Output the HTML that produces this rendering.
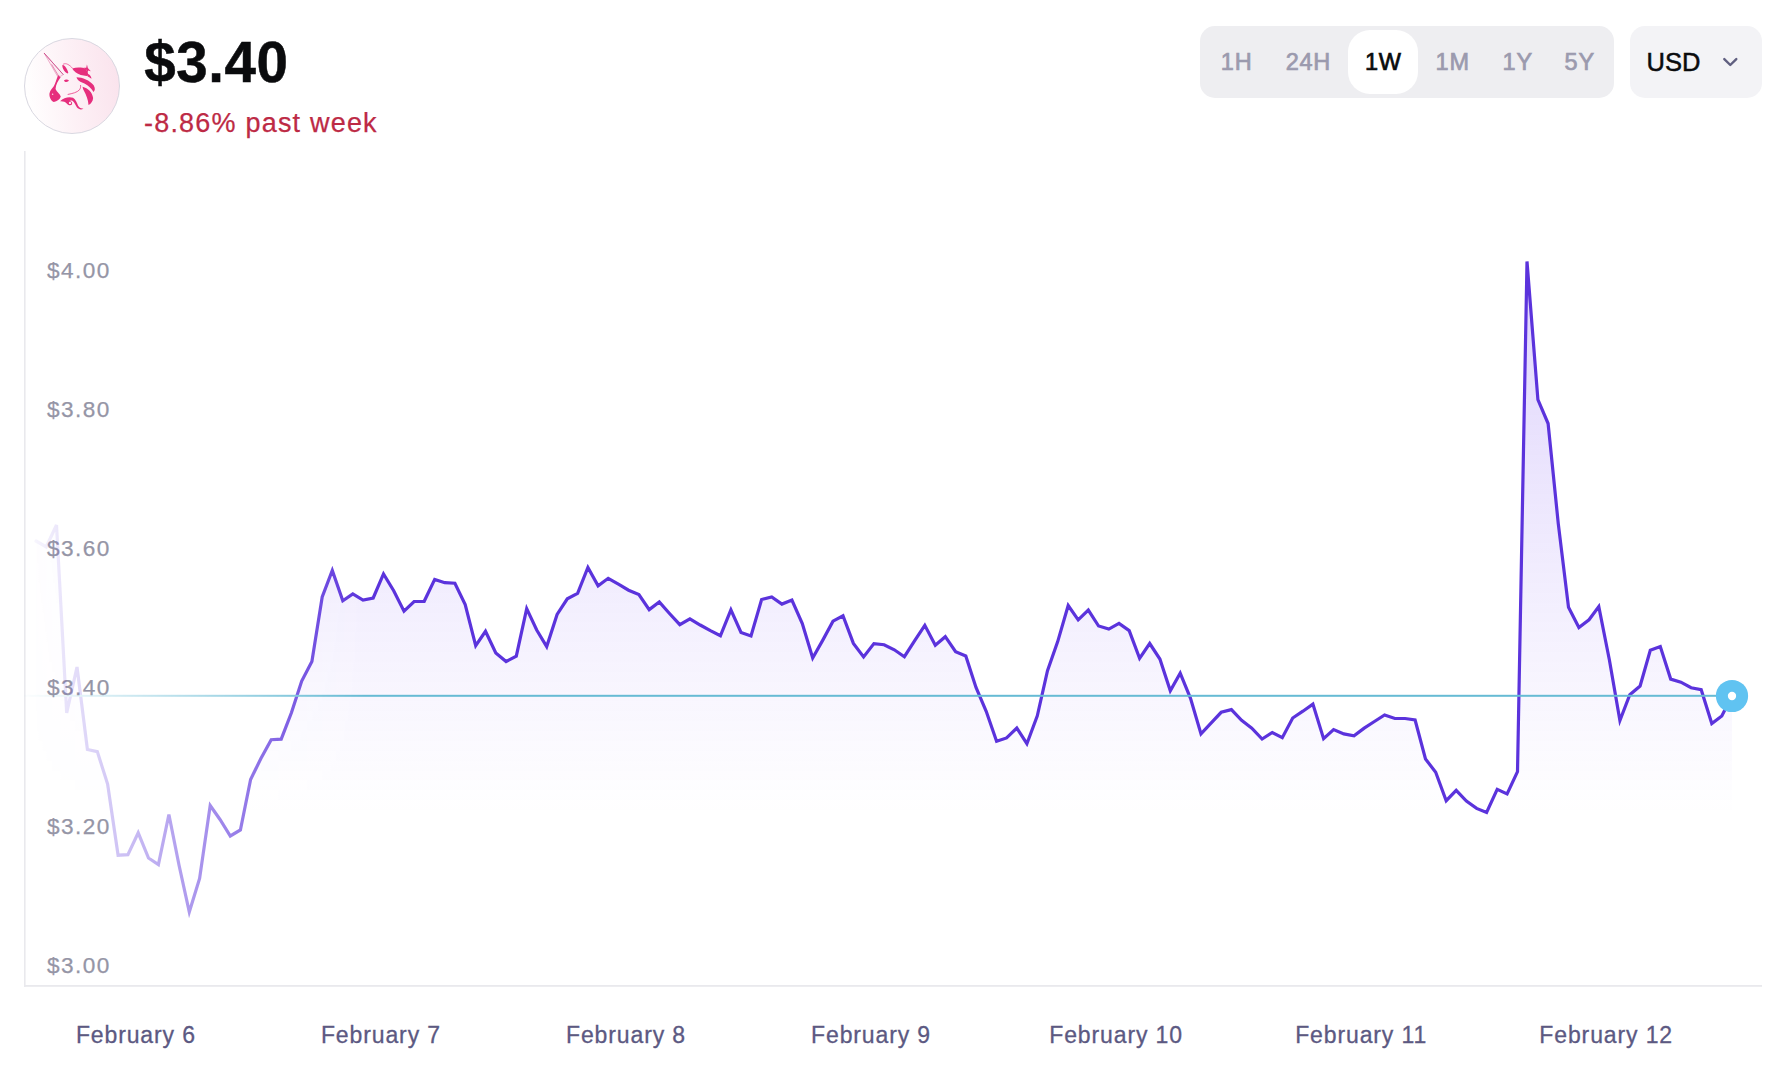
<!DOCTYPE html>
<html lang="en"><head><meta charset="utf-8"><title>UNI price chart</title>
<style>
html,body{margin:0;padding:0;background:#fff;}
body{width:1790px;height:1090px;position:relative;overflow:hidden;font-family:"Liberation Sans",sans-serif;}
.abs{position:absolute;}
#price{left:144.3px;top:30.2px;font-size:56.5px;line-height:66px;font-weight:700;color:#0a0b0d;letter-spacing:0.55px;-webkit-text-stroke:0.5px #0a0b0d;white-space:nowrap;}
#chg{left:144px;top:106.5px;font-size:27px;line-height:32px;color:#bd2a45;letter-spacing:1.2px;-webkit-text-stroke:0.25px #bd2a45;white-space:nowrap;}
#logo{left:24px;top:38px;width:96px;height:96px;border-radius:50%;box-sizing:border-box;border:1.4px solid #d9d8e1;background:linear-gradient(82deg,#fffefe 8%,#fdf1f6 48%,#fae2ec 100%);}
#range{left:1200px;top:26px;width:414px;height:72px;border-radius:15px;background:#eeeef1;}
#pill{left:1348px;top:30px;width:70px;height:64px;border-radius:22px;background:#fff;}
.rb{top:46.3px;font-size:23.5px;line-height:32px;color:#9b9aae;-webkit-text-stroke:0.7px #9b9aae;letter-spacing:0.8px;white-space:nowrap;transform:translateX(-50%);margin-left:0.4px;}
.rb.sel{color:#0a0b0d;-webkit-text-stroke:0.7px #0a0b0d;}
#usd{left:1630px;top:26px;width:132px;height:72px;border-radius:15px;background:#f3f3f6;}
#usdt{left:1646.5px;top:45px;font-size:25.5px;line-height:34px;color:#0a0b0d;-webkit-text-stroke:0.5px #0a0b0d;white-space:nowrap;}
svg text.yl{font-family:"Liberation Sans",sans-serif;font-size:22.6px;fill:#9595a6;letter-spacing:1.45px;stroke:#9595a6;stroke-width:0.25px;}
svg text.dl{font-family:"Liberation Sans",sans-serif;font-size:23px;fill:#5c5982;letter-spacing:0.88px;stroke:#5c5982;stroke-width:0.3px;}
</style></head>
<body>
<svg class="abs" style="left:0;top:0" width="1790" height="1090" viewBox="0 0 1790 1090">
<defs>
<linearGradient id="fade" gradientUnits="userSpaceOnUse" x1="24" y1="0" x2="365" y2="0">
<stop offset="0" stop-color="#fff" stop-opacity="0.02"/><stop offset="1" stop-color="#fff" stop-opacity="1"/>
</linearGradient>
<mask id="m" maskUnits="userSpaceOnUse" x="0" y="0" width="1790" height="1090"><rect x="0" y="0" width="1790" height="1090" fill="url(#fade)"/></mask>
<linearGradient id="fill" gradientUnits="userSpaceOnUse" x1="0" y1="261" x2="0" y2="815">
<stop offset="0" stop-color="#6f3ff3" stop-opacity="0.22"/><stop offset="1" stop-color="#6f3ff3" stop-opacity="0"/>
</linearGradient>
</defs>
<rect x="24" y="151" width="1.6" height="836" fill="#e9e9ed"/>
<rect x="24" y="985" width="1738" height="1.8" fill="#e9e9ed"/>
<text x="47" y="278.3" class="yl">$4.00</text>
<text x="47" y="417.2" class="yl">$3.80</text>
<text x="47" y="556.1" class="yl">$3.60</text>
<text x="47" y="695.0" class="yl">$3.40</text>
<text x="47" y="833.9" class="yl">$3.20</text>
<text x="47" y="972.8" class="yl">$3.00</text>
<text x="135.9" y="1042.6" class="dl" text-anchor="middle">February 6</text>
<text x="380.95" y="1042.6" class="dl" text-anchor="middle">February 7</text>
<text x="626.0" y="1042.6" class="dl" text-anchor="middle">February 8</text>
<text x="871.05" y="1042.6" class="dl" text-anchor="middle">February 9</text>
<text x="1116.1" y="1042.6" class="dl" text-anchor="middle">February 10</text>
<text x="1361.15" y="1042.6" class="dl" text-anchor="middle">February 11</text>
<text x="1606.2" y="1042.6" class="dl" text-anchor="middle">February 12</text>
<g mask="url(#m)">
<path d="M36.1 541.0 L46.2 546.9 L56.5 525.0 L66.7 713.0 L77.0 667.0 L87.4 749.5 L97.3 751.6 L107.6 784.0 L118.1 855.2 L127.9 854.6 L138.2 832.8 L148.5 858.0 L158.4 864.6 L168.9 814.5 L179.1 865.5 L189.3 912.0 L199.6 878.5 L210.2 805.5 L220.0 819.5 L230.3 836.0 L240.4 830.0 L250.6 779.5 L260.9 758.5 L271.2 739.7 L281.2 739.1 L291.5 712.5 L301.7 681.0 L311.9 661.5 L322.2 597.0 L332.3 570.4 L342.8 600.7 L352.8 593.9 L363.0 600.0 L373.2 598.0 L383.5 573.9 L393.7 590.7 L404.0 611.2 L414.1 601.5 L424.2 601.3 L434.7 579.4 L444.8 582.7 L454.9 583.2 L465.2 604.5 L475.7 645.6 L485.5 631.3 L495.8 652.9 L506.1 661.5 L516.3 656.2 L526.7 608.6 L536.7 630.0 L546.7 646.6 L557.1 614.4 L567.3 598.8 L577.6 593.3 L587.9 567.5 L598.1 585.8 L608.2 578.3 L618.4 584.1 L628.6 590.2 L638.9 594.6 L649.2 609.6 L659.3 602.0 L669.5 613.5 L679.8 624.7 L689.9 618.8 L700.2 625.0 L710.4 630.7 L720.4 635.8 L730.9 609.9 L741.0 632.4 L751.0 635.9 L761.6 599.5 L771.7 597.0 L781.9 604.1 L791.9 600.1 L802.3 623.6 L812.7 658.0 L822.8 640.1 L833.0 621.2 L843.0 615.8 L853.4 643.4 L863.6 656.9 L873.9 643.6 L884.1 644.7 L894.3 649.8 L904.4 656.7 L914.7 640.6 L924.8 625.3 L935.3 645.3 L945.3 636.7 L955.6 651.7 L965.8 655.9 L976.0 687.4 L986.2 711.3 L996.6 741.2 L1006.6 737.9 L1016.8 728.1 L1026.9 743.7 L1037.3 715.9 L1047.5 670.6 L1057.7 641.6 L1068.2 605.5 L1078.2 619.8 L1088.3 610.1 L1098.6 626.0 L1108.8 629.1 L1119.0 623.4 L1129.2 630.6 L1139.6 658.4 L1149.7 643.5 L1159.9 659.0 L1170.3 690.7 L1180.2 673.2 L1190.5 698.4 L1201.0 733.9 L1211.0 723.2 L1221.2 712.3 L1231.4 709.6 L1241.6 720.4 L1251.8 728.1 L1262.1 739.0 L1272.3 732.5 L1282.3 737.7 L1292.7 718.0 L1302.9 711.2 L1312.9 704.1 L1323.6 738.6 L1333.6 729.6 L1343.8 733.9 L1354.0 735.8 L1364.2 728.1 L1374.4 721.5 L1384.6 714.9 L1394.9 718.5 L1405.1 718.5 L1415.1 720.0 L1425.5 759.0 L1435.7 772.2 L1446.2 800.7 L1456.2 790.4 L1466.4 801.1 L1476.6 808.4 L1486.6 812.4 L1497.2 789.4 L1507.1 794.0 L1517.5 771.7 L1527.0 261.5 L1537.9 399.7 L1548.1 423.5 L1558.3 523.9 L1568.5 607.3 L1578.9 627.5 L1589.0 619.8 L1598.8 606.6 L1609.4 660.0 L1619.9 720.6 L1629.8 694.7 L1640.1 686.0 L1650.3 650.3 L1660.3 646.5 L1670.7 679.1 L1680.9 682.2 L1691.1 687.7 L1701.2 689.7 L1711.8 723.5 L1721.8 716.0 L1732.0 695.7 L1732.0 986 L36.1 986 Z" fill="url(#fill)"/>
<path d="M36.1 541.0 L46.2 546.9 L56.5 525.0 L66.7 713.0 L77.0 667.0 L87.4 749.5 L97.3 751.6 L107.6 784.0 L118.1 855.2 L127.9 854.6 L138.2 832.8 L148.5 858.0 L158.4 864.6 L168.9 814.5 L179.1 865.5 L189.3 912.0 L199.6 878.5 L210.2 805.5 L220.0 819.5 L230.3 836.0 L240.4 830.0 L250.6 779.5 L260.9 758.5 L271.2 739.7 L281.2 739.1 L291.5 712.5 L301.7 681.0 L311.9 661.5 L322.2 597.0 L332.3 570.4 L342.8 600.7 L352.8 593.9 L363.0 600.0 L373.2 598.0 L383.5 573.9 L393.7 590.7 L404.0 611.2 L414.1 601.5 L424.2 601.3 L434.7 579.4 L444.8 582.7 L454.9 583.2 L465.2 604.5 L475.7 645.6 L485.5 631.3 L495.8 652.9 L506.1 661.5 L516.3 656.2 L526.7 608.6 L536.7 630.0 L546.7 646.6 L557.1 614.4 L567.3 598.8 L577.6 593.3 L587.9 567.5 L598.1 585.8 L608.2 578.3 L618.4 584.1 L628.6 590.2 L638.9 594.6 L649.2 609.6 L659.3 602.0 L669.5 613.5 L679.8 624.7 L689.9 618.8 L700.2 625.0 L710.4 630.7 L720.4 635.8 L730.9 609.9 L741.0 632.4 L751.0 635.9 L761.6 599.5 L771.7 597.0 L781.9 604.1 L791.9 600.1 L802.3 623.6 L812.7 658.0 L822.8 640.1 L833.0 621.2 L843.0 615.8 L853.4 643.4 L863.6 656.9 L873.9 643.6 L884.1 644.7 L894.3 649.8 L904.4 656.7 L914.7 640.6 L924.8 625.3 L935.3 645.3 L945.3 636.7 L955.6 651.7 L965.8 655.9 L976.0 687.4 L986.2 711.3 L996.6 741.2 L1006.6 737.9 L1016.8 728.1 L1026.9 743.7 L1037.3 715.9 L1047.5 670.6 L1057.7 641.6 L1068.2 605.5 L1078.2 619.8 L1088.3 610.1 L1098.6 626.0 L1108.8 629.1 L1119.0 623.4 L1129.2 630.6 L1139.6 658.4 L1149.7 643.5 L1159.9 659.0 L1170.3 690.7 L1180.2 673.2 L1190.5 698.4 L1201.0 733.9 L1211.0 723.2 L1221.2 712.3 L1231.4 709.6 L1241.6 720.4 L1251.8 728.1 L1262.1 739.0 L1272.3 732.5 L1282.3 737.7 L1292.7 718.0 L1302.9 711.2 L1312.9 704.1 L1323.6 738.6 L1333.6 729.6 L1343.8 733.9 L1354.0 735.8 L1364.2 728.1 L1374.4 721.5 L1384.6 714.9 L1394.9 718.5 L1405.1 718.5 L1415.1 720.0 L1425.5 759.0 L1435.7 772.2 L1446.2 800.7 L1456.2 790.4 L1466.4 801.1 L1476.6 808.4 L1486.6 812.4 L1497.2 789.4 L1507.1 794.0 L1517.5 771.7 L1527.0 261.5 L1537.9 399.7 L1548.1 423.5 L1558.3 523.9 L1568.5 607.3 L1578.9 627.5 L1589.0 619.8 L1598.8 606.6 L1609.4 660.0 L1619.9 720.6 L1629.8 694.7 L1640.1 686.0 L1650.3 650.3 L1660.3 646.5 L1670.7 679.1 L1680.9 682.2 L1691.1 687.7 L1701.2 689.7 L1711.8 723.5 L1721.8 716.0 L1732.0 695.7" fill="none" stroke="#5b33dc" stroke-width="3.2" stroke-linejoin="miter" stroke-miterlimit="4" stroke-linecap="round"/>
<rect x="24" y="694.8" width="1708" height="2" fill="#66bbd4"/>
</g>
<circle cx="1732" cy="696" r="16.1" fill="#60c3f1"/>
<circle cx="1732" cy="696" r="4.15" fill="#fff"/>
</svg>
<div id="logo" class="abs"></div>
<svg class="abs" style="left:40px;top:45px" width="70" height="75" viewBox="0 0 1017 1090">
<g fill="#e62e7d" stroke="none">
<path d="M60 118 L338 430 L300 455 L250 448 Z" fill="#fbe9f1" stroke="#d8508f" stroke-width="6" stroke-linejoin="round"/>
<path d="M62 120 L336 428" fill="none" stroke="#c43a7f" stroke-width="11" stroke-linecap="round"/>
<path d="M168 282 L268 446" fill="none" stroke="#d43a80" stroke-width="8"/>
<path d="M262 440 C240 500 222 560 200 600 C180 630 150 650 138 700 C130 750 160 810 200 830 C250 820 290 790 302 750 C290 710 240 680 226 640 C230 580 262 520 300 470 Z"/>
<path d="M325 295 C345 280 375 320 395 360 C410 390 415 410 405 415 C380 410 350 380 335 345 C328 325 322 305 325 295 Z"/>
<path d="M338 278 C380 255 430 290 470 335" fill="none" stroke="#e8297b" stroke-width="9" stroke-linecap="round"/>
<path d="M348 515 C365 495 400 495 420 512 C410 540 365 548 348 515 Z"/>
<path d="M468 340 C540 322 620 325 665 350 C695 390 705 425 698 448 C640 455 560 430 520 400 C495 380 478 360 468 340 Z"/>
<path d="M682 285 L695 335 L738 380 L700 372 L690 400 L676 365 L630 330 L672 332 Z"/>
<path d="M700 420 C730 430 745 460 748 490 C725 475 700 465 690 455 Z"/>
<path d="M530 468 C620 470 720 510 780 585 C805 630 802 665 775 682 C750 630 690 580 620 550 C570 530 540 505 530 468 Z"/>
<path d="M618 608 C700 630 760 690 772 770 C768 820 740 855 705 872 C700 800 670 720 640 670 C628 650 620 630 618 608 Z"/>
<path d="M408 718 C470 705 540 690 575 650 C590 625 592 605 590 588" fill="none" stroke="#e8297b" stroke-width="11" stroke-linecap="round"/>
<path d="M292 818 C340 770 420 745 480 768 C520 790 535 840 552 880 C570 915 600 930 632 922 C605 945 565 940 535 905 C510 870 500 830 470 812 C455 805 435 808 428 815 C455 815 475 835 465 860 C450 885 410 880 388 850 C370 825 330 815 292 818 Z"/>
</g>
<circle cx="183" cy="716" r="11" fill="#fbd3e4"/>
<circle cx="436" cy="842" r="17" fill="#fbe6ef"/>
</svg>

<div id="price" class="abs">$3.40</div>
<div id="chg" class="abs">-8.86% past week</div>
<div id="range" class="abs"></div>
<div id="pill" class="abs"></div>
<div class="abs rb" style="left:1236.3px">1H</div>
<div class="abs rb" style="left:1308px">24H</div>
<div class="abs rb sel" style="left:1383px">1W</div>
<div class="abs rb" style="left:1452.3px">1M</div>
<div class="abs rb" style="left:1517.3px">1Y</div>
<div class="abs rb" style="left:1579.3px">5Y</div>
<div id="usd" class="abs"></div>
<div id="usdt" class="abs">USD</div>
<svg class="abs" style="left:1716px;top:50px" width="28" height="24" viewBox="1716 50 28 24"><path d="M1724.3 59.1 L1730.3 65.0 L1736.3 59.1" fill="none" stroke="#605f80" stroke-width="2.4" stroke-linecap="round" stroke-linejoin="round"/></svg>
</body></html>
